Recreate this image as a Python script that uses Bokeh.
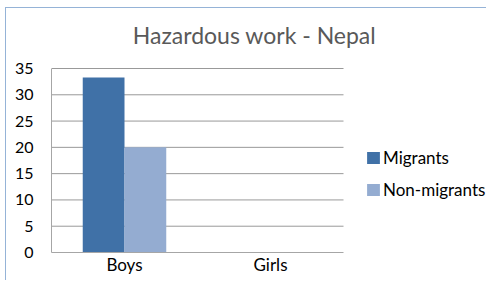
from bokeh.plotting import figure
from bokeh.layouts import column
from bokeh.models import (Range1d, Legend, LegendItem, Label,
                          ColumnDataSource, FixedTicker)
from bokeh.transform import dodge
from bokeh.embed import file_html
from bokeh.resources import INLINE

# ---- data ----
categories = ["Boys", "Girls"]
migrants = [33.3, 0]
non_migrants = [20, 0]
y_ticks = [0, 5, 10, 15, 20, 25, 30, 35]
series_names = ["Migrants", "Non-migrants"]
title_text = "Hazardous work - Nepal"

FONT = "Lato"
BORDER = "#95b3d7"

# ---- layout (pixels) ----
W, H = 481, 273
LEFT, BOTTOM = 45, 29
FRAME_W, FRAME_H = W - LEFT, H - BOTTOM
PLOT_W, PLOT_H = 292, 184           # visible plotting area inside frame
n = len(categories)
y_max = y_ticks[-1]

x_centers = [i + 0.5 for i in range(n)]
src = ColumnDataSource(dict(xc=x_centers, migrants=migrants,
                            non_migrants=non_migrants))

p = figure(x_range=Range1d(0, n * FRAME_W / PLOT_W),
           y_range=Range1d(0, y_max * FRAME_H / PLOT_H),
           width=W, height=H,
           min_border_left=LEFT, min_border_right=0,
           min_border_top=0, min_border_bottom=BOTTOM,
           output_backend="svg", toolbar_location=None,
           margin=(7, 0, 0, 5),
           styles={"border-left": f"1px solid {BORDER}",
                   "border-top": f"1px solid {BORDER}",
                   "box-shadow": f"0 -12px 0 0 #ffffff, 0 -13px 0 0 {BORDER}"})

p.outline_line_color = None
p.background_fill_color = "white"
p.border_fill_color = "white"
p.xgrid.visible = False
p.ygrid.visible = False

# horizontal gridlines over the plotting area only
p.segment(x0=0, x1=n, y0=y_ticks[1:], y1=y_ticks[1:],
          line_color="#999999", line_width=1)

r1 = p.vbar(x=dodge("xc", -0.143), top="migrants", width=0.286,
            source=src, fill_color="#4071a7", line_color=None)
r2 = p.vbar(x=dodge("xc", 0.143), top="non_migrants", width=0.286,
            source=src, fill_color="#94acd1", line_color=None)

# axes
p.yaxis.ticker = FixedTicker(ticks=y_ticks)
p.yaxis.bounds = (0, y_max)
p.yaxis.axis_line_color = "#a6a6a6"
p.yaxis.major_tick_out = 0
p.yaxis.major_tick_in = 0
p.yaxis.minor_tick_line_color = None
p.yaxis.major_label_standoff = 18
p.yaxis.major_label_text_font = FONT
p.yaxis.major_label_text_font_size = "16px"
p.yaxis.major_label_text_color = "black"

p.xaxis.ticker = FixedTicker(ticks=x_centers)
p.xaxis.major_label_overrides = {x: c for x, c in zip(x_centers, categories)}
p.xaxis.bounds = (0, n)
p.xaxis.axis_line_color = "#a6a6a6"
p.xaxis.major_tick_out = 0
p.xaxis.major_tick_in = 0
p.xaxis.minor_tick_line_color = None
p.xaxis.major_label_standoff = 1
p.xaxis.major_label_text_font = FONT
p.xaxis.major_label_text_font_size = "17px"
p.xaxis.major_label_text_color = "black"

# title
p.add_layout(Label(x=203, y=218, x_units="screen", y_units="screen",
                   text=title_text, text_align="center",
                   text_baseline="middle", text_font=FONT,
                   text_font_size="23px", text_color="#595959"))

legend = Legend(items=[LegendItem(label=series_names[0], renderers=[r1]),
                       LegendItem(label=series_names[1], renderers=[r2])],
                location=(314, 52), orientation="vertical",
                padding=0, margin=0, border_line_color=None,
                background_fill_alpha=0,
                label_text_font=FONT, label_text_font_size="17px",
                label_text_color="black",
                glyph_width=16, glyph_height=15, label_height=20,
                spacing=11, label_standoff=2)
p.add_layout(legend)

root = column(p, width=W + 6, height=H + 8)
open("out.html", "w").write(file_html(root, INLINE))
